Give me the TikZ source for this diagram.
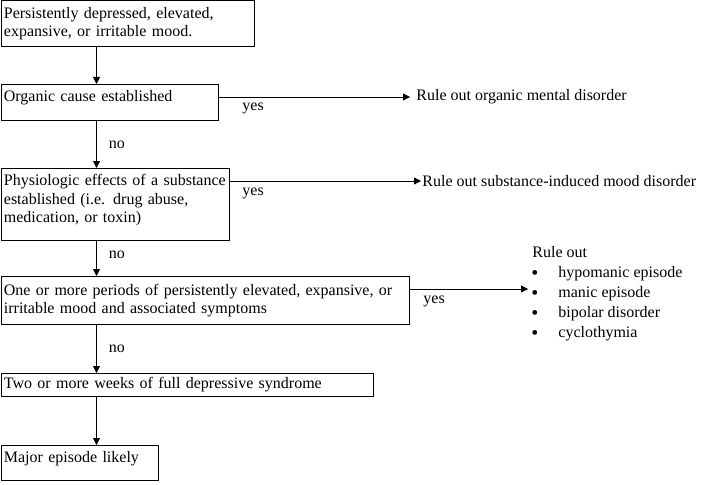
\documentclass[tikz,border=0pt]{standalone}
\usepackage{fontspec}
\setmainfont{Liberation Serif}
\usetikzlibrary{arrows.meta}

\tikzset{
  box/.style={draw, anchor=north west, align=left, inner xsep=3pt, inner ysep=2pt},
  arr/.style={-{Triangle[length=7pt,width=7pt]}},
  lbl/.style={anchor=west, inner sep=0pt},
}
\newcommand{\lowpad}{\rule[-12pt]{0pt}{12pt}}
\newcommand{\dotmark}{\raisebox{-2pt}{\fontsize{20}{20}\selectfont\textbullet}}

\begin{document}
\begin{tikzpicture}[x=1pt, y=-1pt, line width=0.8pt, font=\fontsize{16}{18.4}\selectfont]
    \useasboundingbox (0,0) rectangle (719,484);

    \node[box, text width=247pt, minimum height=46pt] (b1) at (0.5,0.5) {Persistently depressed, elevated,\\expansive, or irritable mood.};
    \node[box, text width=211pt, minimum height=36pt] (b2) at (0.5,84) {Organic cause established\lowpad};
    \node[box, text width=222pt, minimum height=72pt] (b3) at (0.5,168) {Physiologic effects of a substance\\established (i.e. drug abuse,\\medication, or toxin)\lowpad};
    \node[box, text width=402pt, minimum height=48pt] (b4) at (0.5,276) {One or more periods of persistently elevated, expansive, or\\irritable mood and associated symptoms};
    \node[box, text width=366pt, minimum height=23pt] (b5) at (0.5,373) {Two or more weeks of full depressive syndrome};
    \node[box, text width=151pt, minimum height=35pt] (b6) at (0.5,445) {Major episode likely\lowpad};

    \node[anchor=west, inner xsep=6pt] (r1) at (410,97) {Rule out organic mental disorder};
    \node[anchor=west, inner xsep=1pt] (r2) at (421,181) {Rule out substance-induced mood disorder};
    \node[anchor=west, inner sep=0pt, font=\fontsize{16}{20}\selectfont] (r3) at (528,293) {%
      \begin{tabular}{@{\hspace{3pt}}l@{\hspace{20pt}}l@{}}
        \multicolumn{2}{@{\hspace{4pt}}l}{Rule out}\\
        \dotmark & hypomanic episode\\
        \dotmark & manic episode\\
        \dotmark & bipolar disorder\\
        \dotmark & cyclothymia
      \end{tabular}};

    % no branches
    \draw[arr] ([xshift=96pt]b1.south west) -- ([xshift=96pt]b2.north west);
    \draw[arr] ([xshift=96pt]b2.south west) -- ([xshift=96pt]b3.north west) node[lbl, pos=0.5, xshift=12pt] (n1) {no};
    \draw[arr] ([xshift=96pt]b3.south west) -- ([xshift=96pt]b4.north west) node[lbl, pos=0.4, xshift=12pt] (n2) {no};
    \draw[arr] ([xshift=96pt]b4.south west) -- ([xshift=96pt]b5.north west) node[lbl, pos=0.5, xshift=12pt] (n3) {no};
    \draw[arr] ([xshift=96pt]b5.south west) -- ([xshift=96pt]b6.north west);

    % yes branches
    \path ([yshift=-13pt]b2.north east) coordinate (s1)
          ([yshift=-13pt]b3.north east) coordinate (s2)
          ([yshift=-13pt]b4.north east) coordinate (s3);
    \draw[arr] (s1) -- (s1 -| r1.west);
    \draw[arr] (s2) -- (s2 -| r2.west);
    \draw[arr] (s3) -- (s3 -| r3.west);
    \node[lbl] (y1) at (242,108) {yes};
    \node[lbl] (y2) at (242,193) {yes};
    \node[lbl] (y3) at (423,301) {yes};
\end{tikzpicture}
\end{document}
